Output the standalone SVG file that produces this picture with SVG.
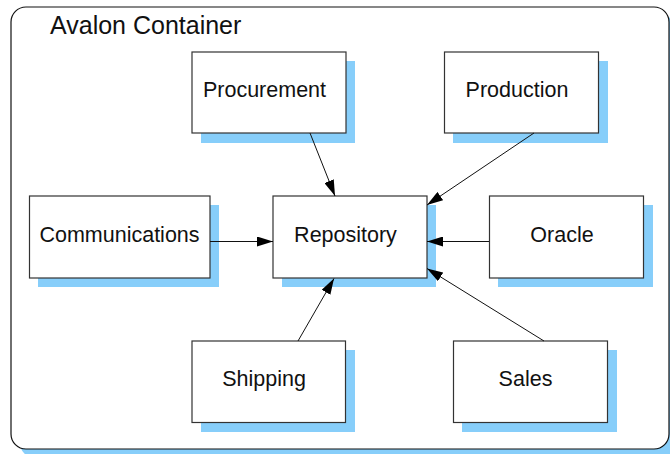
<svg xmlns="http://www.w3.org/2000/svg" width="670" height="454" viewBox="0 0 670 454">
<defs>
<style>
.shadow{fill:#87cefa;stroke:none}
.box{fill:#ffffff;stroke:#333333;stroke-width:1.2}
.label{font-family:"Liberation Sans",Arial,sans-serif;font-size:21.5px;fill:#111111;text-anchor:middle}
.conn{stroke:#111111;stroke-width:1;fill:none;marker-end:url(#arrow)}
</style>
<marker id="arrow" viewBox="0 0 16 10" refX="16" refY="5" markerWidth="16" markerHeight="10" markerUnits="userSpaceOnUse" orient="auto">
<path d="M0,0 L16,5 L0,10 Z" fill="#000000"/>
</marker>
</defs>
<rect width="670" height="454" fill="#ffffff"/>
<g id="container">
<rect class="shadow" x="20" y="16" width="658" height="442" rx="15"/>
<rect x="11" y="7" width="658" height="442" rx="15" fill="#ffffff" stroke="#111111" stroke-width="1.2"/>
<text x="50" y="34" font-family="Liberation Sans, Arial, sans-serif" font-size="25" fill="#111111">Avalon Container</text>
</g>
<g id="procurement">
<rect class="shadow" x="201" y="61" width="154" height="82"/>
<rect class="box" x="192" y="52" width="154" height="81"/>
<text class="label" x="264.5" y="97">Procurement</text>
</g>
<g id="production">
<rect class="shadow" x="453" y="61" width="155" height="82"/>
<rect class="box" x="444.5" y="52" width="154" height="81"/>
<text class="label" x="517" y="97">Production</text>
</g>
<g id="communications">
<rect class="shadow" x="38" y="205" width="181" height="82"/>
<rect class="box" x="29.5" y="196" width="180.5" height="82"/>
<text class="label" x="119.5" y="242">Communications</text>
</g>
<g id="repository">
<rect class="shadow" x="282" y="205" width="154" height="82"/>
<rect class="box" x="273" y="196" width="154" height="82"/>
<text class="label" x="345.5" y="242">Repository</text>
</g>
<g id="oracle">
<rect class="shadow" x="498" y="205" width="155" height="82"/>
<rect class="box" x="489.5" y="196" width="154" height="82"/>
<text class="label" x="562" y="242">Oracle</text>
</g>
<g id="shipping">
<rect class="shadow" x="201" y="350" width="154" height="82"/>
<rect class="box" x="192" y="341" width="153.5" height="81.5"/>
<text class="label" x="264" y="386">Shipping</text>
</g>
<g id="sales">
<rect class="shadow" x="462" y="350" width="155" height="82"/>
<rect class="box" x="453.5" y="341" width="154" height="81.5"/>
<text class="label" x="525.5" y="386">Sales</text>
</g>
<g id="connectors">
<line class="conn" x1="310" y1="133" x2="335" y2="196"/>
<line class="conn" x1="534" y1="133" x2="427" y2="205"/>
<line class="conn" x1="210" y1="241.5" x2="273" y2="241.5"/>
<line class="conn" x1="489" y1="241.5" x2="427" y2="241.5"/>
<line class="conn" x1="298" y1="341" x2="334" y2="278.5"/>
<line class="conn" x1="544" y1="341" x2="427" y2="268.5"/>
</g>
</svg>
